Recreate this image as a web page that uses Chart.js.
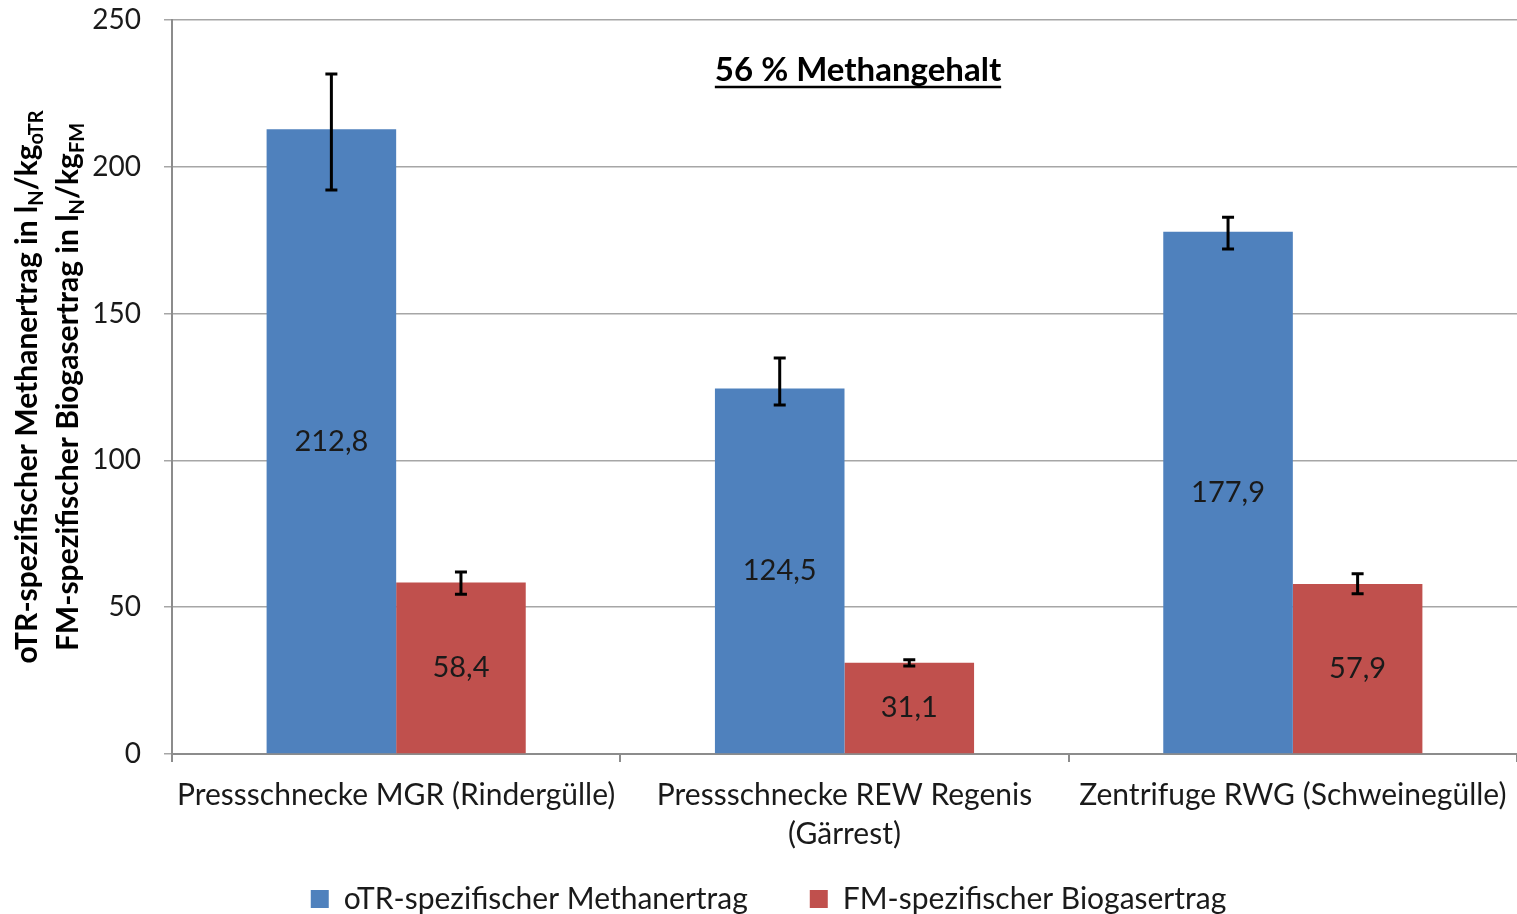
<!DOCTYPE html>
<html>
<head>
<meta charset="utf-8">
<script src="https://cdn.jsdelivr.net/npm/chart.js@4"></script>
<style>
html,body{margin:0;padding:0;background:#fff;}
#wrap{width:1517px;height:914px;position:relative;}
</style>
</head>
<body>
<div id="wrap"><canvas id="c" width="1517" height="914"></canvas></div>
<script>
const categories = [["Pressschnecke MGR (Rindergülle)"], ["Pressschnecke REW Regenis", "(Gärrest)"], ["Zentrifuge RWG (Schweinegülle)"]];
const seriesNames = ["oTR-spezifischer Methanertrag", "FM-spezifischer Biogasertrag"];
const methane = [212.8, 124.5, 177.9];
const biogas = [58.4, 31.1, 57.9];
const methaneLow = [192.1, 118.9, 172.0];
const methaneHigh = [231.6, 134.9, 182.8];
const biogasLow = [54.4, 30.0, 54.6];
const biogasHigh = [62.0, 32.1, 61.4];
const yTicks = [0, 50, 100, 150, 200, 250];
const chartTitle = "56 % Methangehalt";

const FONT = "Lato, 'Open Sans', sans-serif";
const TXT = "#1a1a1a";

const errLow = [methaneLow, biogasLow];
const errHigh = [methaneHigh, biogasHigh];

const errorBars = {
  id: 'errorBars',
  afterDatasetsDraw(chart) {
    const ctx = chart.ctx, y = chart.scales.y;
    ctx.save();
    ctx.strokeStyle = '#000';
    ctx.lineWidth = 3;
    chart.data.datasets.forEach((ds, i) => {
      const meta = chart.getDatasetMeta(i);
      meta.data.forEach((bar, j) => {
        const x = bar.x;
        const yl = y.getPixelForValue(errLow[i][j]);
        const yh = y.getPixelForValue(errHigh[i][j]);
        ctx.beginPath();
        ctx.moveTo(x, yl); ctx.lineTo(x, yh);
        ctx.moveTo(x - 6, yl); ctx.lineTo(x + 6, yl);
        ctx.moveTo(x - 6, yh); ctx.lineTo(x + 6, yh);
        ctx.stroke();
      });
    });
    ctx.restore();
  }
};

const dataLabels = {
  id: 'dataLabels',
  afterDatasetsDraw(chart) {
    const ctx = chart.ctx;
    ctx.save();
    ctx.fillStyle = TXT;
    ctx.font = "29px " + FONT;
    ctx.textAlign = 'center';
    ctx.textBaseline = 'middle';
    chart.data.datasets.forEach((ds, i) => {
      const meta = chart.getDatasetMeta(i);
      meta.data.forEach((bar, j) => {
        const v = ds.data[j];
        ctx.fillText(v.toFixed(1).replace('.', ','), bar.x, (bar.y + bar.base) / 2);
      });
    });
    ctx.restore();
  }
};

const titleAndAxis = {
  id: 'titleAndAxis',
  afterDraw(chart) {
    const ctx = chart.ctx;
    ctx.save();
    ctx.fillStyle = "#000";
    ctx.strokeStyle = "#000";
    // title
    ctx.font = "bold 33px " + FONT;
    ctx.textAlign = 'center';
    ctx.textBaseline = 'alphabetic';
    const tx = 858, ty = 81;
    ctx.fillText(chartTitle, tx, ty);
    const w = ctx.measureText(chartTitle).width;
    ctx.lineWidth = 2.5;
    ctx.beginPath();
    ctx.moveTo(tx - w / 2, ty + 6); ctx.lineTo(tx + w / 2, ty + 6);
    ctx.stroke();
    // y-axis title with subscripts
    const lines = [
      [["oTR-spezifischer Methanertrag in l", 0], ["N", 1], ["/kg", 0], ["oTR", 1]],
      [["FM-spezifischer Biogasertrag in l", 0], ["N", 1], ["/kg", 0], ["FM", 1]]
    ];
    const xs = [37, 78];
    const cy = 387;
    lines.forEach((parts, k) => {
      ctx.save();
      ctx.translate(xs[k], cy);
      ctx.rotate(-Math.PI / 2);
      let total = 0;
      parts.forEach(p => {
        ctx.font = (p[1] ? "bold 20px " : "bold 30px ") + FONT;
        total += ctx.measureText(p[0]).width;
      });
      let x = -total / 2;
      ctx.textAlign = 'left';
      parts.forEach(p => {
        ctx.font = (p[1] ? "bold 20px " : "bold 30px ") + FONT;
        ctx.fillText(p[0], x, p[1] ? 6 : 0);
        x += ctx.measureText(p[0]).width;
      });
      ctx.restore();
    });
    ctx.restore();
  }
};

new Chart(document.getElementById('c'), {
  type: 'bar',
  data: {
    labels: categories,
    datasets: [
      { label: seriesNames[0], data: methane, backgroundColor: '#4f81bd', borderWidth: 0 },
      { label: seriesNames[1], data: biogas, backgroundColor: '#c0504d', borderWidth: 0 }
    ]
  },
  options: {
    responsive: false,
    animation: false,
    devicePixelRatio: 1,
    layout: { padding: { top: 20, right: 0, left: 20, bottom: 0 } },
    datasets: { bar: { categoryPercentage: 0.578, barPercentage: 1.0 } },
    plugins: {
      legend: {
        position: 'bottom',
        maxHeight: 92,
        labels: {
          font: { family: FONT, size: 30 },
          color: TXT,
          boxWidth: 18, boxHeight: 18,
          padding: 62,
          useBorderRadius: false
        }
      },
      title: { display: false },
      tooltip: { enabled: false }
    },
    scales: {
      x: {
        grid: { display: true, drawOnChartArea: false, drawTicks: true, tickLength: 8, color: '#8c8c8c', lineWidth: 2, offset: true },
        border: { display: true, color: '#8c8c8c', width: 2 },
        ticks: { font: { family: FONT, size: 30, lineHeight: 1.3 }, color: TXT, padding: 14, maxRotation: 0, autoSkip: false },
        afterFit(s) { s.height = 68; s.paddingLeft = 0; s.paddingRight = 0; s._computeLabelArea = () => undefined; }
      },
      y: {
        min: 0, max: 250,
        afterBuildTicks(s) { s.ticks = yTicks.map(v => ({ value: v })); },
        grid: { color: '#a6a6a6', lineWidth: 1.5, tickLength: 8, drawTicks: true },
        border: { display: true, color: '#8c8c8c', width: 2 },
        ticks: { font: { family: FONT, size: 28 }, color: TXT, padding: 23 },
        afterFit(s) { s.width = 152; s.paddingTop = 0; s.paddingBottom = 0; }
      }
    }
  },
  plugins: [errorBars, dataLabels, titleAndAxis]
});
</script>
</body>
</html>
